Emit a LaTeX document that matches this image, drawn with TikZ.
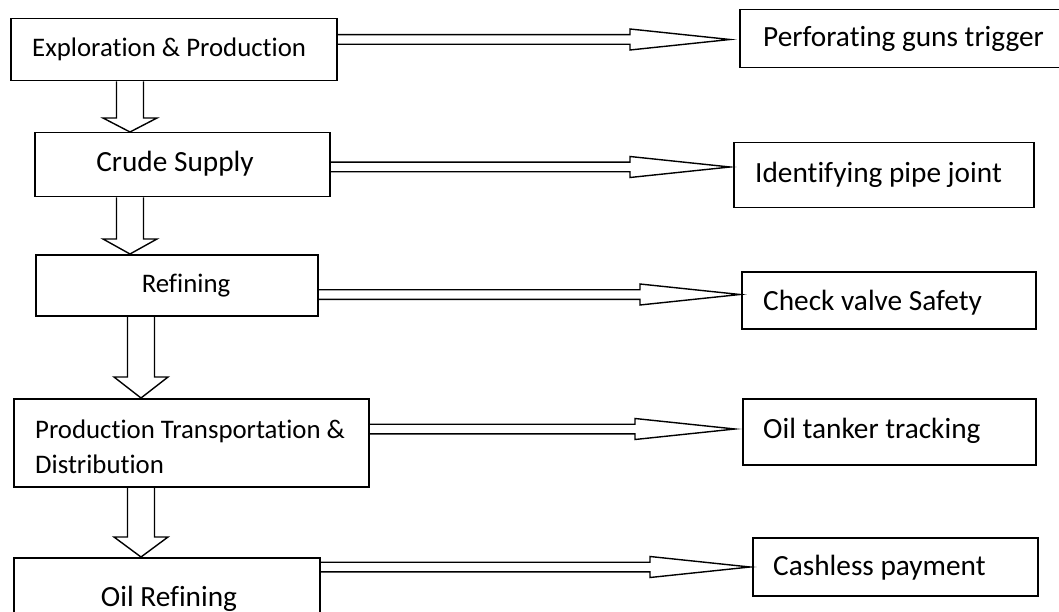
\documentclass[tikz,border=0pt]{standalone}
\usepackage{fontspec}
\setmainfont[Ligatures=NoCommon]{Carlito}
\usetikzlibrary{calc}
\begin{document}
\begin{tikzpicture}[x=1pt,y=-1pt,
  box/.style={draw=black, line width=1.5pt, inner sep=0pt, anchor=north west},
  lbl/.style={inner sep=0pt, font=\fontsize{26.8}{32}\selectfont},
  lblbig/.style={inner sep=0pt, font=\fontsize{29.3}{35}\selectfont},
  blk/.style={draw=black, line width=1.4pt, line join=miter},
  % hollow block arrow pointing down; #1 = length of the head
  downblock/.style={to path={let \p1=(\tikztostart), \p2=(\tikztotarget) in
     (\x1-13.5pt,\y1) -- (\x1-13.5pt,\y2+#1) -- (\x1-27pt,\y2+#1) -- (\x2,\y2)
     -- (\x1+27pt,\y2+#1) -- (\x1+13.5pt,\y2+#1) -- (\x1+13.5pt,\y1)}},
  % hollow block arrow pointing right, with a long narrow head
  rightblock/.style={to path={let \p1=(\tikztostart), \p2=(\tikztotarget) in
     (\x1,\y1+4.8pt) -- (\x2-100pt,\y1+4.8pt) -- (\x2-100pt,\y1+10.5pt) -- (\x2,\y2)
     -- (\x2-100pt,\y1-10.5pt) -- (\x2-100pt,\y1-4.8pt) -- (\x1,\y1-4.8pt)}},
]
\clip (0,0) rectangle (1059,612);

% process stages (left column)
\node[box, minimum width=326pt, minimum height=62pt] (b1) at (10,18) {};
\node[box, minimum width=295pt, minimum height=64pt] (b2) at (34,132) {};
\node[box, minimum width=282pt, minimum height=61pt] (b3) at (35,254) {};
\node[box, minimum width=355pt, minimum height=88pt] (b4) at (13,398) {};
\node[box, minimum width=306pt, minimum height=90pt] (b5) at (13,557) {};

\node[lbl, anchor=base west] (l1) at (32,56.5) {Exploration \& Production};
\node[lblbig, anchor=base] (l2) at (175,172) {Crude Supply};
\node[lbl, anchor=base] (l3) at (186,292) {Refining};
\node[lbl, anchor=base west] (l4a) at (35,438) {Production Transportation \&};
\node[lbl, anchor=base west] (l4b) at (35,473) {Distribution};
\node[lblbig, anchor=base] (l5) at (169,606) {Oil Refining};

% applications (right column)
\node[box, minimum width=340pt, minimum height=58pt] (t1) at (739,9) {};
\node[box, minimum width=300pt, minimum height=65pt] (t2) at (733,142) {};
\node[box, minimum width=294pt, minimum height=57pt] (t3) at (741,271) {};
\node[box, minimum width=293pt, minimum height=66pt] (t4) at (742,398) {};
\node[box, minimum width=285pt, minimum height=58pt] (t5) at (752,537) {};

\node[lblbig, anchor=base west] (m1) at (763,47) {Perforating guns trigger};
\node[lblbig, anchor=base west] (m2) at (755,183) {Identifying pipe joint};
\node[lblbig, anchor=base west] (m3) at (763,310) {Check valve Safety};
\node[lblbig, anchor=base west] (m4) at (763,438) {Oil tanker tracking};
\node[lblbig, anchor=base west] (m5) at (773,575) {Cashless payment};

% columns of the downward arrows, rows of the rightward arrows
\coordinate (c1) at (130,0);
\coordinate (c2) at (141,0);
\coordinate (r1) at (0,39.5);
\coordinate (r2) at (0,167);
\coordinate (r3) at (0,294.5);
\coordinate (r4) at (0,429);
\coordinate (r5) at (0,567);

% downward flow between stages
\draw[blk] (b1.south -| c1) to[downblock=14pt] (b2.north -| c1);
\draw[blk] (b2.south -| c1) to[downblock=15pt] (b3.north -| c1);
\draw[blk] (b3.south -| c2) to[downblock=21pt] (b4.north -| c2);
\draw[blk] (b4.south -| c2) to[downblock=20pt] (b5.north -| c2);

% arrow tips, just short of the application boxes
\coordinate (p1) at ($(t1.west |- r1)+(-9,0)$);
\coordinate (p2) at ($(t2.west |- r2)+(-3,0)$);
\coordinate (p3) at ($(t3.west |- r3)+(-1,0)$);
\coordinate (p4) at ($(t4.west |- r4)+(-7,0)$);
\coordinate (p5) at ($(t5.west |- r5)+(-2,0)$);

\draw[blk] (b1.east |- r1) to[rightblock] (p1);
\draw[blk] (b2.east |- r2) to[rightblock] (p2);
\draw[blk] (b3.east |- r3) to[rightblock] (p3);
\draw[blk] (b4.east |- r4) to[rightblock] (p4);
\draw[blk] (b5.east |- r5) to[rightblock] (p5);
\end{tikzpicture}
\end{document}
